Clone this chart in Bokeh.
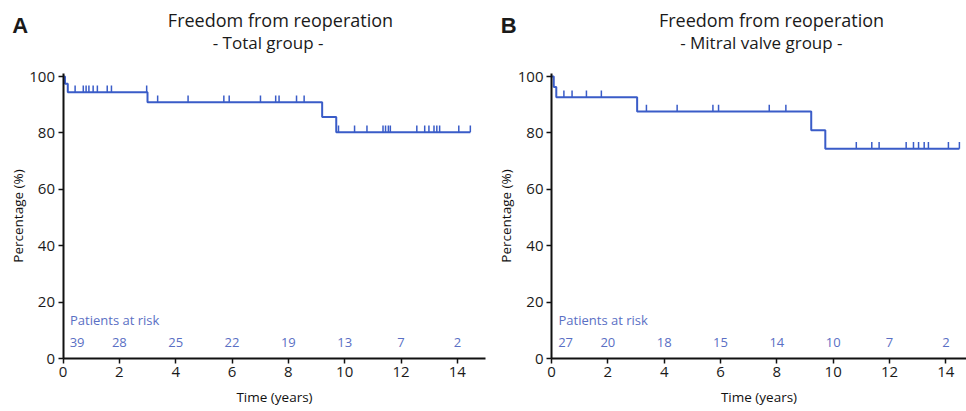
import numpy as np
from bokeh.plotting import figure
from bokeh.models import Label, FixedTicker, Range1d
from bokeh.layouts import row
from bokeh.core.properties import value
from bokeh.embed import file_html
from bokeh.resources import INLINE

# ---------------- data ----------------
title_text = "Freedom from reoperation"

# Panel A: total group
a_subtitle = "- Total group -"
a_event_times = [0.07, 0.17, 3.0, 9.2, 9.7]
a_survival = [97.4, 94.4, 90.9, 85.6, 80.2]
a_end_time = 14.46
a_censor_times = [0.43, 0.72, 0.82, 0.92, 1.07, 1.22, 1.57, 1.72, 2.97,
                  3.36, 4.44, 5.71, 5.90, 7.01, 7.55, 7.67, 8.29, 8.56,
                  9.78, 10.35, 10.79, 11.36, 11.45, 11.55, 11.62, 12.56,
                  12.84, 12.99, 13.17, 13.27, 13.37, 14.05, 14.46]
a_risk_n = [39, 28, 25, 22, 19, 13, 7, 2]

# Panel B: mitral valve group
b_subtitle = "- Mitral valve group -"
b_event_times = [0.08, 0.17, 3.04, 9.22, 9.72]
b_survival = [96.3, 92.6, 87.6, 80.9, 74.4]
b_end_time = 14.48
b_censor_times = [0.44, 0.73, 1.24, 1.77, 3.37, 4.46, 5.73, 5.93, 7.73,
                  8.32, 10.82, 11.37, 11.63, 12.59, 12.85, 13.03, 13.23,
                  13.38, 14.09, 14.48]
b_risk_n = [27, 20, 18, 15, 14, 10, 7, 2]

risk_times = [0, 2, 4, 6, 8, 10, 12, 14]
x_ticks = [0, 2, 4, 6, 8, 10, 12, 14]
y_ticks = [0, 20, 40, 60, 80, 100]

LINE = "#3a5cc8"
RISK = "#5a6fc4"
FONT = "Open Sans"

PX_X = 28.17   # pixels per year
PX_Y = 2.82    # pixels per percent
H = 411
Y0_PX = 358    # canvas y of 0 %


def make_panel(letter, subtitle, ev_t, surv, end_t, cens, risk_n,
               width, x0_px, title_x, sub_x):
    xs0 = -x0_px / PX_X
    ys0 = -(H - Y0_PX) / PX_Y
    p = figure(width=width, height=H, output_backend="svg",
               toolbar_location=None,
               x_range=Range1d(xs0, xs0 + width / PX_X),
               y_range=Range1d(ys0, ys0 + H / PX_Y),
               min_border_left=0, min_border_right=0,
               min_border_top=0, min_border_bottom=0)
    p.outline_line_color = None
    p.xgrid.visible = False
    p.ygrid.visible = False
    p.background_fill_color = "white"

    for ax in (p.xaxis[0], p.yaxis[0]):
        ax.fixed_location = 0
        ax.axis_line_width = 2
        ax.axis_line_color = "#111111"
        ax.major_tick_line_color = "#111111"
        ax.major_tick_line_width = 1.5
        ax.major_tick_out = 5
        ax.major_tick_in = 0
        ax.minor_tick_line_color = None
        ax.major_label_text_font = FONT
        ax.major_label_text_font_size = "15px"
        ax.major_label_text_color = "#1a1a1a"
        ax.axis_label_text_font = FONT
        ax.axis_label_text_font_size = "13.5px"
        ax.axis_label_text_font_style = "normal"
        ax.axis_label_text_color = "#111111"
        ax.major_label_standoff = 3
    p.xaxis.ticker = FixedTicker(ticks=x_ticks)
    p.yaxis.ticker = FixedTicker(ticks=y_ticks)
    p.xaxis.bounds = (0, 15)
    p.yaxis.bounds = (0, 101)
    p.xaxis.axis_label = "Time (years)"
    p.yaxis.axis_label = "Percentage (%)"
    p.xaxis.axis_label_standoff = 8
    p.yaxis.axis_label_standoff = 0

    # Kaplan-Meier step curve
    xs = [0] + list(ev_t) + [end_t]
    ys = [100] + list(surv) + [surv[-1]]
    p.step(xs, ys, mode="after", line_color=LINE, line_width=2)

    # censor ticks
    t_arr = np.array(ev_t)
    s_arr = np.array([100] + list(surv))
    c = np.array(cens)
    lev = s_arr[np.searchsorted(t_arr, c, side="right")]
    p.segment(x0=c, y0=lev, x1=c, y1=lev + 2.4, line_color=LINE,
              line_width=1.5)

    # patients at risk
    p.text(x=[0.25], y=[13.8], text=["Patients at risk"], text_font=value(FONT),
           text_font_size="13px", text_color=RISK, text_baseline="middle",
           text_align="left")
    rx = [max(t, 0.5) for t in risk_times]
    p.text(x=rx, y=[5.8] * len(rx), text=[str(n) for n in risk_n],
           text_font=value(FONT), text_font_size="13px", text_color=RISK,
           text_baseline="middle", text_align="center")

    # titles
    p.add_layout(Label(x=title_x, y=120.0, text=title_text, text_font=FONT,
                       text_font_size="18px", text_color="#1a1a1a",
                       text_align="center", text_baseline="alphabetic"))
    p.add_layout(Label(x=sub_x, y=112.0, text=subtitle, text_font=FONT,
                       text_font_size="17px", text_color="#1a1a1a",
                       text_align="center", text_baseline="alphabetic"))
    p.add_layout(Label(x=-1.8, y=118.0, text=letter, text_font="Liberation Sans",
                       text_font_size="22px", text_font_style="bold",
                       text_color="#1a1a1a", text_align="left",
                       text_baseline="alphabetic"))
    return p


pa = make_panel("A", a_subtitle, a_event_times, a_survival, a_end_time,
                a_censor_times, a_risk_n, width=490, x0_px=62.5,
                title_x=7.72, sub_x=7.28)
pb = make_panel("B", b_subtitle, b_event_times, b_survival, b_end_time,
                b_censor_times, b_risk_n, width=476, x0_px=61,
                title_x=7.81, sub_x=7.45)

layout = row(pa, pb)
open("out.html", "w").write(file_html(layout, INLINE))
